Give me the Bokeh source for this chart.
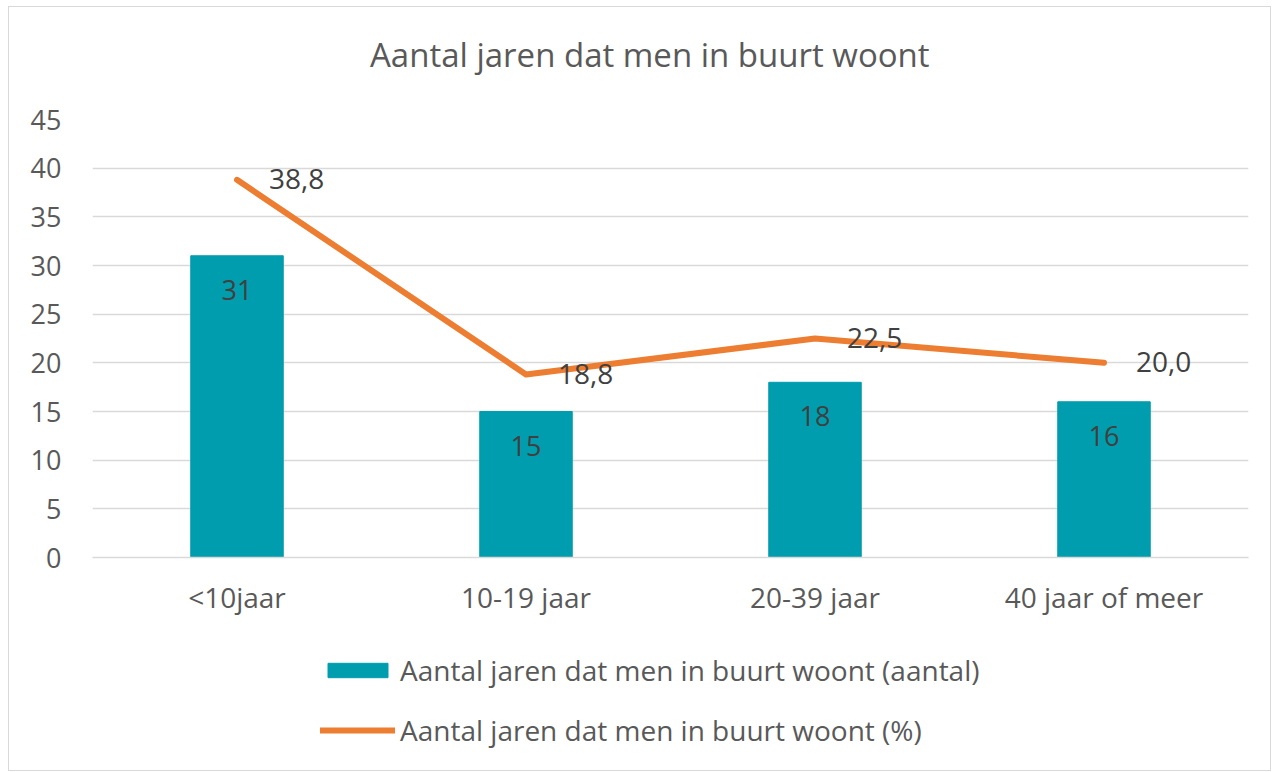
from bokeh.plotting import figure
from bokeh.layouts import column
from bokeh.models import ColumnDataSource, Legend, LegendItem, FixedTicker, Range1d, Div
from bokeh.core.properties import value
from bokeh.embed import file_html
from bokeh.resources import INLINE

title_text = "Aantal jaren dat men in buurt woont"
categories = ["<10jaar", "10-19 jaar", "20-39 jaar", "40 jaar of meer"]
aantal = [31, 15, 18, 16]
percent = [38.8, 18.8, 22.5, 20.0]
percent_labels = ["38,8", "18,8", "22,5", "20,0"]
y_ticks = [0, 5, 10, 15, 20, 25, 30, 35, 40, 45]
series_names = ["Aantal jaren dat men in buurt woont (aantal)",
                "Aantal jaren dat men in buurt woont (%)"]

FONT = "Open Sans"
TEAL = "#009DAE"
ORANGE = "#ED7D31"

src = ColumnDataSource(dict(
    cat=categories,
    aantal=aantal,
    aantal_lbl=[str(v) for v in aantal],
    pct=percent,
    pct_lbl=percent_labels,
))

W = 1261

title = Div(text=title_text, width=W, height=90, margin=0,
            styles={"font-family": FONT, "font-size": "33px", "color": "#595959",
                    "line-height": "45px", "padding-top": "25px",
                    "padding-left": "361px", "white-space": "nowrap",
                    "box-sizing": "border-box"})

p = figure(x_range=categories, y_range=(0, 45), width=W, height=551,
           output_backend="svg", toolbar_location=None,
           min_border_left=83, min_border_right=22, min_border_top=22,
           min_border_bottom=91)
p.outline_line_color = None

bars = p.vbar(x="cat", top="aantal", width=0.32, source=src, color=TEAL)
line = p.line(x="cat", y="pct", source=src, line_color=ORANGE, line_width=6,
              line_cap="round", line_join="round")

p.text(x="cat", y="aantal", text="aantal_lbl", source=src, text_align="center",
       text_baseline="top", y_offset=24, text_font=value(FONT),
       text_font_size="27px", text_color="#404040")
p.text(x="cat", y="pct", text="pct_lbl", source=src, text_align="left",
       text_baseline="middle", x_offset=32, y_offset=-1, text_font=value(FONT),
       text_font_size="28px", text_color="#404040")

p.yaxis.ticker = FixedTicker(ticks=y_ticks)
p.yaxis.axis_line_color = None
p.yaxis.major_tick_line_color = None
p.yaxis.minor_tick_line_color = None
p.yaxis.major_label_text_font = FONT
p.yaxis.major_label_text_font_size = "27px"
p.yaxis.major_label_text_color = "#595959"
p.yaxis.major_label_standoff = 25

p.xaxis.axis_line_color = "#D9D9D9"
p.xaxis.axis_line_width = 1.5
p.xaxis.major_tick_line_color = None
p.xaxis.minor_tick_line_color = None
p.xaxis.major_label_text_font = FONT
p.xaxis.major_label_text_font_size = "28px"
p.xaxis.major_label_text_color = "#595959"
p.xaxis.major_label_standoff = 14

p.xgrid.grid_line_color = None
p.ygrid.grid_line_color = "#D9D9D9"
p.ygrid.grid_line_width = 1.5

# legend panel below the chart (its glyphs share the same data, kept out of view)
lg = figure(x_range=categories, y_range=Range1d(1000, 1001), width=W, height=122,
            output_backend="svg", toolbar_location=None,
            x_axis_type=None, y_axis_type=None,
            min_border=0, min_border_left=0, min_border_right=0,
            min_border_top=0, min_border_bottom=0)
lg.outline_line_color = None
lg.xgrid.grid_line_color = None
lg.ygrid.grid_line_color = None
lbars = lg.vbar(x="cat", top="aantal", width=0.32, source=src, color=TEAL)
lline = lg.line(x="cat", y="pct", source=src, line_color=ORANGE, line_width=6,
                line_cap="round", line_join="round")
legend = Legend(items=[
    LegendItem(label=series_names[0], renderers=[lbars]),
    LegendItem(label=series_names[1], renderers=[lline]),
], location=(228, 21), orientation="vertical",
    label_text_font=FONT, label_text_font_size="28px", label_text_color="#595959",
    glyph_width=75, glyph_height=18, label_height=38, label_standoff=5, spacing=22,
    border_line_color=None, background_fill_alpha=0, margin=0, padding=0)
lg.add_layout(legend, "center")

layout = column(title, p, lg, spacing=0,
                styles={"border": "1px solid #D9D9D9", "margin-left": "8px",
                        "margin-top": "6px"})

open("out.html", "w").write(file_html(layout, INLINE))
